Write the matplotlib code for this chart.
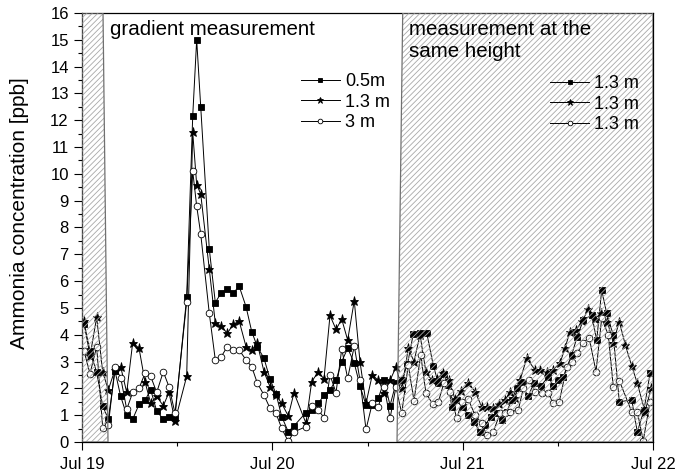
import matplotlib
matplotlib.use('Agg')
import matplotlib.pyplot as plt
from matplotlib.patches import Polygon
from matplotlib.ticker import MultipleLocator, FixedLocator

plt.rcParams['font.family'] = ['Liberation Sans', 'DejaVu Sans']
plt.rcParams['hatch.linewidth'] = 0.6

# time in hours after Jul 19 00:00
# gradient period (shared time stamps for the three heights)
t_grad = [0.25, 1.01, 1.85, 2.61, 3.32, 4.16, 4.88, 5.64, 6.39, 7.19, 7.94, 8.66,
          9.42, 10.25, 10.97, 11.73, 13.20, 13.96, 14.46, 14.97, 16.05, 16.81, 17.56,
          18.32, 19.08, 19.83, 20.68, 21.40, 22.10, 22.95, 23.70, 24.46, 25.18, 26.01,
          26.73, 28.24, 28.96, 29.80, 30.51, 31.27, 32.03, 32.75, 33.50, 34.33, 35.05,
          35.81, 36.60, 37.36, 38.12, 38.84, 39.59]
grad_05m = [4.4, 3.4, 2.6, 1.35, 0.85, 2.65, 1.7, 1.0, 0.85, 1.4, 1.55, 1.95, 1.15, 0.85,
            0.95, 0.95, 5.4, 12.15, 15.0, 12.5, 7.2, 5.2, 5.57, 5.7, 5.57, 5.8, 5.05,
            4.12, 3.56, 3.12, 2.35, 1.8, 0.95, 0.38, 0.6, 1.1, 1.2, 1.44, 1.75, 1.95,
            2.3, 3.0, 3.5, 2.94, 2.1, 1.37, 1.38, 1.63, 2.3, 1.36, 2.2]
grad_13m = [4.5, 3.2, 4.65, 2.6, 1.95, 2.7, 2.8, 1.85, 3.7, 3.5, 2.25, 1.45, 1.7, 1.35,
            1.85, 0.78, 2.45, 11.55, 9.6, 9.25, 6.45, 4.43, 4.33, 4.05, 4.4, 4.5, 3.56,
            3.43, 3.68, 2.62, 2.06, 1.75, 1.44, 0.97, 1.84, 0.7, 2.25, 2.62, 2.35, 4.72,
            4.2, 4.58, 3.8, 5.27, 3.0, 1.44, 2.5, 2.3, 1.84, 2.3, 2.79]
grad_3m = [3.4, 2.55, 3.56, 0.52, 0.63, 2.8, 2.4, 1.22, 1.85, 2.0, 2.56, 2.45, 1.85, 2.62,
           2.06, 1.07, 5.24, 10.1, 8.8, 7.76, 4.8, 3.06, 3.18, 3.56, 3.43, 3.43, 3.06,
           2.81, 2.2, 1.75, 1.26, 1.07, 0.51, 0.02, 0.38, 0.57, 1.34, 1.19, 0.91, 2.5,
           1.84, 3.47, 2.37, 3.58, 2.31, 0.47, 1.44, 1.32, 2.04, 0.88, 2.06]

# same-height period, each sampler at 1.3 m
t_same_a = [40.31, 41.04, 41.77, 42.56, 43.46, 44.30, 44.93, 45.64, 46.19, 46.62, 47.25,
            47.98, 48.67, 49.43, 50.18, 50.81, 51.57, 52.29, 52.96, 53.55, 54.16, 54.81,
            55.44, 56.24, 56.99, 57.88, 58.80, 59.43, 60.08, 60.69, 61.75, 62.41, 63.21,
            64.27, 64.90, 65.53, 66.16, 66.99, 67.75, 69.31, 70.02, 70.86, 71.62]
same_a = [2.31, 2.9, 4.03, 4.07, 4.07, 2.85, 2.19, 2.54, 2.13, 1.32, 1.57, 1.3, 1.0, 0.75,
          0.38, 0.63, 0.95, 1.07, 0.82, 1.13, 1.55, 2.0, 2.19, 1.7, 2.2, 2.1, 2.44, 2.09,
          2.3, 2.44, 3.25, 3.9, 4.55, 4.74, 3.8, 5.67, 4.8, 3.99, 1.5, 1.57, 0.38, 1.19, 2.56]
t_same_b = [40.35, 41.14, 41.86, 42.62, 43.37, 44.13, 44.72, 45.56, 46.28, 47.03, 47.85,
            48.71, 49.55, 50.40, 51.03, 51.86, 52.58, 53.34, 53.97, 54.60, 55.23, 56.07,
            57.12, 57.75, 58.63, 59.43, 60.27, 60.90, 61.53, 62.29, 63.05, 63.84, 64.68,
            65.44, 66.24, 66.99, 67.75, 68.53, 69.31, 70.02, 70.99, 71.75]
same_b = [2.0, 3.5, 3.0, 4.0, 2.6, 2.3, 2.34, 2.59, 2.3, 1.6, 1.9, 2.2, 1.88, 1.32, 1.29,
          1.26, 1.4, 1.57, 1.85, 1.63, 2.3, 3.12, 2.69, 2.69, 2.6, 2.7, 2.94, 3.5, 4.12,
          4.18, 4.5, 4.95, 4.6, 4.8, 4.49, 3.71, 4.49, 3.6, 2.84, 2.19, 1.13, 2.0]
t_same_c = [40.31, 41.14, 41.86, 42.71, 43.37, 44.22, 44.93, 45.64, 46.40, 47.25, 47.91,
            48.71, 49.55, 50.40, 51.03, 51.86, 52.71, 53.34, 53.97, 55.01, 55.64, 56.40,
            57.12, 57.96, 58.80, 59.43, 60.18, 61.12, 61.78, 62.45, 63.17, 63.97, 64.81,
            65.53, 66.36, 66.99, 67.75, 69.31, 70.02, 70.77, 71.62]
same_c = [1.07, 2.87, 1.54, 3.25, 1.82, 1.42, 1.5, 2.2, 1.88, 0.88, 1.5, 1.59, 1.01, 0.7,
          0.26, 0.38, 1.07, 1.1, 1.13, 1.19, 2.0, 2.31, 1.88, 1.82, 1.82, 1.44, 1.5, 2.81,
          3.0, 3.31, 3.7, 3.87, 2.62, 4.62, 3.99, 2.06, 2.29, 1.13, 1.13, 0.05, 1.5]

labels_grad = ['0.5m', '1.3 m', '3 m']
labels_same = ['1.3 m', '1.3 m', '1.3 m']
day_labels = ['Jul 19', 'Jul 20', 'Jul 21', 'Jul 22']

# shaded (same height) periods, drawn by hand in the original
shade_left = [(0, 0), (3.28, 0), (2.65, 16), (0, 16)]
shade_right = [(39.72, 0), (72, 0), (72, 16), (40.44, 16)]


fig = plt.figure(figsize=(6.76, 4.74), dpi=100)
ax = fig.add_axes([0.1213, 0.0675, 0.8447, 0.9051])

styles = [dict(marker='s', ms=4.3, mfc='k'),
          dict(marker='*', ms=6.5, mfc='k'),
          dict(marker='o', ms=4.8, mfc='white')]
series = [(t_grad + t_same_a, grad_05m + same_a),
          (t_grad + t_same_b, grad_13m + same_b),
          (t_grad + t_same_c, grad_3m + same_c)]

handles = []
for (t, y), st in zip(series, styles):
    ln, = ax.plot(t, y, color='k', lw=0.7, mec='k', mew=0.6, zorder=2, **st)
    handles.append(ln)

for verts in (shade_left, shade_right):
    ax.add_patch(Polygon(verts, closed=True, facecolor='none', edgecolor='#a8a8a8',
                         hatch='//////', lw=0, zorder=3))
    ax.add_patch(Polygon(verts, closed=True, facecolor='none', edgecolor='#707070',
                         lw=0.9, zorder=3))

ax.text(3.53, 15.74, 'gradient measurement', fontsize=14.8, va='top', ha='left')
ax.text(41.27, 15.74, 'measurement at the\nsame height', fontsize=14.8,
        va='top', ha='left', linespacing=1.2)

leg_kw = dict(loc='upper left', frameon=False, fontsize=13, handlelength=2.16,
              handletextpad=0.28, labelspacing=0.2, borderpad=0, borderaxespad=0,
              markerscale=0.7)
leg1 = ax.legend(handles, labels_grad, bbox_to_anchor=(0.3835, 0.8597), **leg_kw)
ax.add_artist(leg1)
ax.legend(handles, labels_same, bbox_to_anchor=(0.8196, 0.855), **leg_kw)

ax.set_xlim(0, 72)
ax.set_ylim(0, 16)
ax.set_xticks([0, 24, 48, 72])
ax.set_xticklabels(day_labels)
ax.xaxis.set_minor_locator(FixedLocator([12, 36, 60]))
ax.yaxis.set_major_locator(MultipleLocator(1))
ax.yaxis.set_minor_locator(MultipleLocator(0.5))
ax.tick_params(which='major', direction='out', length=5.5, width=0.8, labelsize=12)
ax.tick_params(which='minor', direction='out', length=3, width=0.8)
ax.tick_params(axis='x', pad=5)
ax.tick_params(axis='y', pad=4)
for sp in ax.spines.values():
    sp.set_linewidth(0.9)

fig.text(0.0291, 0.5496, 'Ammonia concentration [ppb]', rotation=90, fontsize=15,
         ha='center', va='center')

fig.savefig('out.png', dpi=100)
